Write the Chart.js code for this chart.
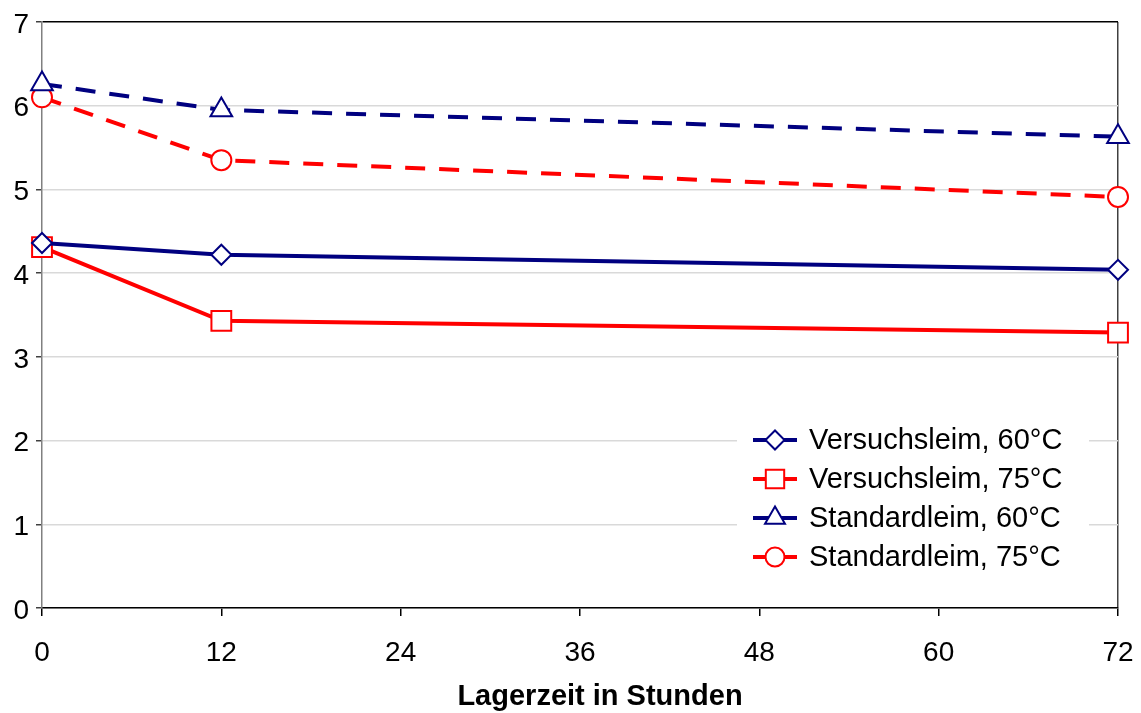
<!DOCTYPE html>
<html><head><meta charset="utf-8">
<script src="https://cdn.jsdelivr.net/npm/chart.js@4"></script>
<style>html,body{margin:0;padding:0;background:#fff}#wrap{width:1141px;height:713px;position:relative}</style>
</head><body><div id="wrap"><canvas id="c" width="1141" height="713"></canvas></div>
<script>
const hours = [0, 12, 72];
const versuch60 = [4.36, 4.22, 4.04];
const versuch75 = [4.31, 3.43, 3.29];
const standard60 = [6.26, 5.95, 5.63];
const standard75 = [6.10, 5.35, 4.91];
const seriesNames = ['Versuchsleim, 60°C', 'Versuchsleim, 75°C', 'Standardleim, 60°C', 'Standardleim, 75°C'];
const xTickValues = [0, 12, 24, 36, 48, 60, 72];
const yTickValues = [0, 1, 2, 3, 4, 5, 6, 7];
const xTitle = 'Lagerzeit in Stunden';

const FONT = '"Liberation Sans", Arial, sans-serif';
const NAVY = '#000080', RED = '#ff0000';

function pts(arr) { return hours.map((h, i) => ({ x: h, y: arr[i] })); }

function mk(label, data, color, dash, style, radius, legendRadius) {
  return {
    label, data: pts(data), borderColor: color, backgroundColor: color,
    borderWidth: 4, borderDash: dash, tension: 0,
    pointStyle: style, pointRadius: radius, pointHoverRadius: radius,
    pointBorderColor: color, pointBackgroundColor: '#fff', pointBorderWidth: 2,
    clip: false, legendRadius
  };
}

const datasets = [
  mk(seriesNames[0], versuch60, NAVY, [], 'rectRot', 10, 9.5),
  mk(seriesNames[1], versuch75, RED, [], 'rect', 14, 13),
  mk(seriesNames[2], standard60, NAVY, [20, 14], 'triangle', 12.5, 11.5),
  mk(seriesNames[3], standard75, RED, [20, 14], 'circle', 10, 9.5)
];

const customDraw = {
  id: 'customDraw',
  afterDraw(chart) {
    const ctx = chart.ctx;
    ctx.save();
    // legend
    ctx.fillStyle = '#fff';
    ctx.fillRect(737, 418, 352, 162);
    chart.data.datasets.forEach((ds, i) => {
      const y = 440 + i * 39;
      ctx.setLineDash([]);
      ctx.strokeStyle = ds.borderColor;
      ctx.lineWidth = 4;
      ctx.beginPath(); ctx.moveTo(753, y); ctx.lineTo(797, y); ctx.stroke();
      ctx.fillStyle = '#fff';
      ctx.lineWidth = 2;
      Chart.helpers.drawPoint(ctx, { pointStyle: ds.pointStyle, radius: ds.legendRadius, rotation: 0, borderWidth: 2 }, 775, y);
      ctx.fillStyle = '#000';
      ctx.font = '29px ' + FONT;
      ctx.textBaseline = 'middle';
      ctx.textAlign = 'left';
      ctx.fillText(ds.label, 809, y + 1);
    });
    // x axis title
    ctx.fillStyle = '#000';
    ctx.font = 'bold 29px ' + FONT;
    ctx.textAlign = 'center';
    ctx.textBaseline = 'middle';
    ctx.fillText(xTitle, 600, 697);
    ctx.restore();
  }
};

new Chart(document.getElementById('c'), {
  type: 'line',
  data: { datasets },
  plugins: [customDraw],
  options: {
    responsive: false, animation: false, devicePixelRatio: 1,
    layout: { padding: { left: 0, right: 23, top: 22, bottom: 0 } },
    plugins: { legend: { display: false }, tooltip: { enabled: false }, title: { display: false } },
    scales: {
      x: {
        type: 'linear', min: 0, max: 72,
        afterBuildTicks: (s) => { s.ticks = xTickValues.map(v => ({ value: v })); },
        afterFit: (s) => { s.height = 105; s.paddingLeft = 0; s.paddingRight = 0; },
        ticks: { font: { size: 28, family: FONT }, color: '#000', padding: 20, maxRotation: 0 },
        grid: {
          color: (c) => (c.tick && c.tick.value === 72 ? '#404040' : 'rgba(0,0,0,0)'),
          tickColor: '#000', tickLength: 8, lineWidth: 1.5, drawTicks: true
        },
        border: { color: '#000', width: 1.5 }
      },
      y: {
        min: 0, max: 7,
        afterBuildTicks: (s) => { s.ticks = yTickValues.map(v => ({ value: v })); },
        afterFit: (s) => { s.width = 42; s.paddingTop = 0; s.paddingBottom = 0; },
        ticks: { font: { size: 28, family: FONT }, color: '#000', padding: 7, labelOffset: 3 },
        grid: {
          color: (c) => (c.tick && c.tick.value === 7 ? '#000' : '#d9d9d9'),
          lineWidth: 1.5,
          tickColor: '#404040', tickLength: 6
        },
        border: { color: '#808080', width: 1.5 }
      }
    }
  }
});
</script></body></html>
